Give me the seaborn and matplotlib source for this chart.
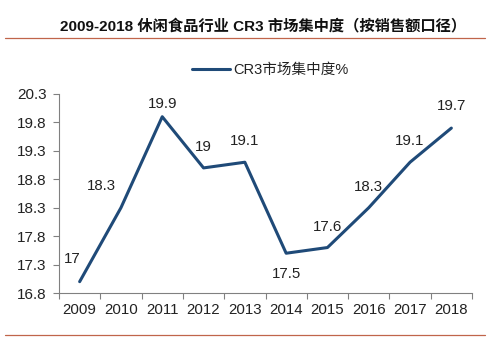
import matplotlib
matplotlib.use("Agg")
import matplotlib.pyplot as plt
from matplotlib.lines import Line2D
import seaborn as sns
import pandas as pd
import numpy as np

years = ["2009", "2010", "2011", "2012", "2013", "2014", "2015", "2016", "2017", "2018"]
cr3 = [17.0, 18.3, 19.9, 19.0, 19.1, 17.5, 17.6, 18.3, 19.1, 19.7]
value_labels = ["17", "18.3", "19.9", "19", "19.1", "17.5", "17.6", "18.3", "19.1", "19.7"]
yticks = [16.8, 17.3, 17.8, 18.3, 18.8, 19.3, 19.8, 20.3]
title = "2009-2018 休闲食品行业 CR3 市场集中度（按销售额口径）"
series_name = "CR3市场集中度%"

sns.set_style("white")
plt.rcParams["font.family"] = ["Liberation Sans", "Noto Sans CJK SC", "DejaVu Sans"]

color = "#1F4A78"
df = pd.DataFrame({"year": years, "value": cr3})

fig = plt.figure(figsize=(5.0, 3.38), dpi=100)
ax = fig.add_axes([0.118, 0.133, 0.826, 0.589])
sns.lineplot(data=df, x="year", y="value", ax=ax, color=color, linewidth=2.2, sort=False)

ax.set_xlim(-0.5, len(years) - 0.5)
ax.set_ylim(yticks[0], yticks[-1])
ax.set_yticks(yticks)
ax.set_yticklabels([f"{t:.1f}" for t in yticks])
ax.set_xticks(range(len(years)))
ax.set_xticklabels(years)
ax.set_xticks(np.arange(-0.5, len(years)), minor=True)
ax.tick_params(axis="x", which="major", length=0, labelsize=10.8, pad=7, colors="#222222")
ax.tick_params(axis="x", which="minor", length=4, width=0.8, color="#808080", direction="out", bottom=True)
ax.tick_params(axis="y", length=4, width=0.8, color="#808080", direction="out", left=True, labelsize=11, pad=5, labelcolor="#222222")
ax.set_xlabel("")
ax.set_ylabel("")
for s in ["top", "right"]:
    ax.spines[s].set_visible(False)
for s in ["left", "bottom"]:
    ax.spines[s].set_color("#808080")
    ax.spines[s].set_linewidth(0.8)

# data labels (offsets in points)
offsets = [(-5, 16), (-14, 16), (0, 9), (0, 15), (0, 15), (0, -15), (0, 15), (0, 15), (0, 15), (0, 16)]
for i, (v, lab) in enumerate(zip(cr3, value_labels)):
    dx, dy = offsets[i]
    ax.annotate(lab, (i, v), xytext=(dx, dy), textcoords="offset points",
                ha="center", va="center", fontsize=10.8, color="#222222")

# legend
handle = Line2D([0], [0], color=color, linewidth=2.2)
leg = fig.legend([handle], [series_name], loc="center", bbox_to_anchor=(0.54, 0.792),
                 frameon=False, fontsize=10.5, handlelength=2.6, handletextpad=0.2)
for t in leg.get_texts():
    t.set_color("#222222")

# title and rules
fig.text(0.527, 0.923, title, ha="center", va="center", fontsize=11, fontweight="bold",
         color="#111111", family=["Liberation Sans", "Noto Sans CJK SC"])
fig.add_artist(Line2D([0.01, 0.97], [0.887, 0.887], color="#C0654A", linewidth=0.9))
fig.add_artist(Line2D([0.01, 0.97], [0.009, 0.009], color="#C0654A", linewidth=0.9))

fig.savefig("out.png", dpi=100)
